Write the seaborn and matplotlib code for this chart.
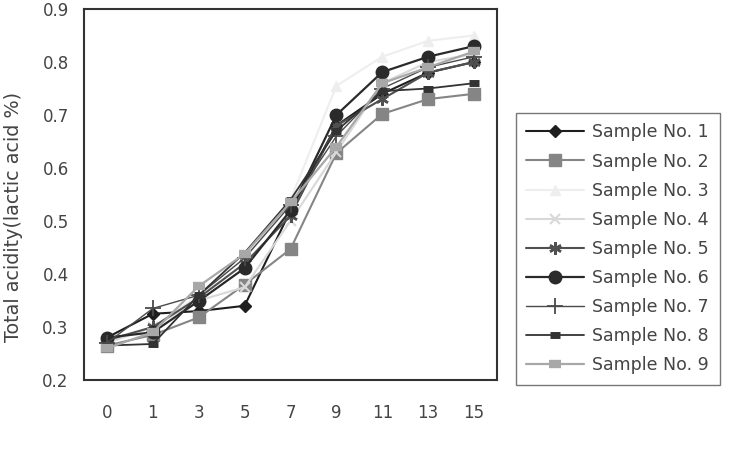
import matplotlib
matplotlib.use("Agg")
import matplotlib.pyplot as plt
import seaborn as sns
import pandas as pd
import numpy as np

days = ["0", "1", "3", "5", "7", "9", "11", "13", "15"]
s1 = [0.280, 0.325, 0.330, 0.340, 0.520, 0.680, 0.740, 0.780, 0.800]
s2 = [0.265, 0.285, 0.318, 0.380, 0.447, 0.628, 0.702, 0.730, 0.740]
s3 = [0.270, 0.300, 0.360, 0.430, 0.540, 0.755, 0.810, 0.840, 0.850]
s4 = [0.270, 0.300, 0.350, 0.375, 0.500, 0.630, 0.760, 0.800, 0.815]
s5 = [0.275, 0.300, 0.355, 0.420, 0.510, 0.680, 0.730, 0.780, 0.800]
s6 = [0.280, 0.290, 0.349, 0.411, 0.520, 0.700, 0.781, 0.810, 0.830]
s7 = [0.270, 0.335, 0.360, 0.430, 0.530, 0.660, 0.750, 0.790, 0.810]
s8 = [0.265, 0.268, 0.360, 0.440, 0.540, 0.670, 0.745, 0.750, 0.760]
s9 = [0.260, 0.290, 0.377, 0.438, 0.535, 0.640, 0.760, 0.790, 0.820]
names = ["Sample No. %d" % i for i in range(1, 10)]
series = [s1, s2, s3, s4, s5, s6, s7, s8, s9]

colors = ["#1e1e1e", "#858585", "#eeeeee", "#d8d8d8", "#505050",
          "#2a2a2a", "#4a4a4a", "#333333", "#a8a8a8"]
markers = ["D", "s", "^", "x", (6, 2, 0), "o", "+", "_", "_"]
msizes = [6, 8, 7, 7, 9, 9, 11, 7, 9]
mews = [1, 1, 1, 1.5, 1.8, 1, 1.3, 5, 6]
lws = [1.5, 1.5, 1.5, 1.5, 1.5, 1.6, 1.0, 1.3, 1.6]

sns.set_style("white")
plt.rcParams['font.family'] = ['DejaVu Sans']

fig = plt.figure(figsize=(7.33, 4.53), dpi=100)
ax = fig.add_axes([84/733, 1-380/453, (497-84)/733, (380-9)/453])

pos = list(range(len(days)))
for n, vals, c, m, ms, mew, lw in zip(names, series, colors, markers, msizes, mews, lws):
    d = pd.DataFrame({"pos": pos, "value": vals})
    sns.lineplot(data=d, x="pos", y="value", color=c, marker=m, markersize=ms,
                 markeredgewidth=mew, markeredgecolor=c, markerfacecolor=c,
                 linewidth=lw, ax=ax, label=n, legend=False)

ax.set_xlim(-0.5, 8.5)
ax.set_ylim(0.2, 0.9)
ax.set_xticks(pos)
ax.set_xticklabels(days)
ax.set_xticks(np.arange(0.5, 8.5, 1), minor=True)
ax.set_yticks(np.arange(0.2, 0.91, 0.1))
ax.set_yticklabels(["%.1f" % v for v in np.arange(0.2, 0.91, 0.1)])
ax.tick_params(axis="x", which="major", length=0, pad=17, labelsize=12, labelcolor="#444444")
ax.tick_params(axis="x", which="minor", length=4, direction="in", color="#333333")
ax.tick_params(axis="y", length=4, direction="in", pad=11, labelsize=12, labelcolor="#444444", color="#333333")
ax.set_xlabel("")
ax.set_ylabel("")
for sp in ax.spines.values():
    sp.set_color("#333333")
    sp.set_linewidth(1.5)

fig.text(14/733, 1-217/453, "Total acidity(lactic acid %)", rotation=90,
         ha="center", va="center", fontsize=13.8, color="#444444")

handles = ax.get_lines()[:len(names)]
leg = fig.legend(handles, names, loc="upper left",
                 bbox_to_anchor=(516/733, 1-113/453), frameon=True, fancybox=False,
                 fontsize=12.5, handlelength=3.3, labelspacing=0.64, borderpad=0.6,
                 handletextpad=0.5, borderaxespad=0)
leg.get_frame().set_edgecolor("#555555")
leg.get_frame().set_linewidth(1.0)
for t in leg.get_texts():
    t.set_color("#444444")

fig.savefig("out.png", dpi=100)
